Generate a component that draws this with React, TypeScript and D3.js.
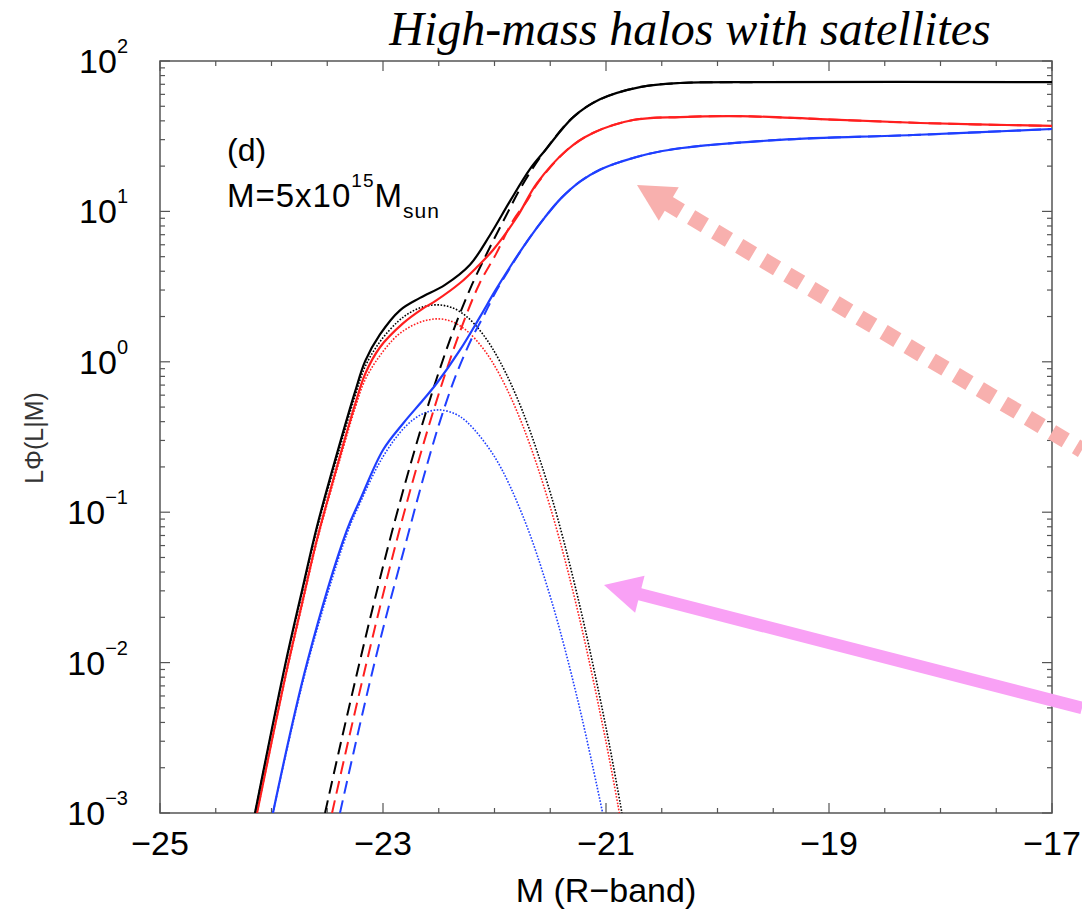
import React from "react";
import * as d3 from "d3";

// Conditional luminosity function of a 5e15 Msun halo, R-band.
// Totals (solid), satellites (dashed) and centrals (dotted) for three models.

const blackTotalMag = [-24.148, -23.879, -23.726, -23.592, -23.386, -23.251, -23.16, -23.027, -22.848, -22.668, -22.444, -22.22, -22.04, -21.861, -21.682, -21.547, -21.296, -21.054, -20.695, -20.336, -19.62, -17.0];
const blackTotalPhi = [0.001, 0.00955, 0.0302, 0.0804, 0.288, 0.631, 1.01, 1.52, 2.2, 2.66, 3.25, 4.42, 6.97, 11.7, 19.1, 25.4, 42.2, 55.6, 67.1, 71.4, 72.4, 72.4];

const redTotalMag = [-24.13, -23.879, -23.726, -23.592, -23.386, -23.251, -23.16, -23.027, -22.821, -22.65, -22.525, -22.309, -22.157, -22.013, -21.798, -21.619, -21.35, -21.117, -20.758, -20.336, -19.8, -19.08, -18.18, -17.0];
const redTotalPhi = [0.001, 0.0079, 0.0248, 0.066, 0.236, 0.52, 0.83, 1.25, 1.8, 2.24, 2.55, 3.34, 4.27, 5.54, 9.18, 15.4, 25.6, 33.2, 40.5, 42.4, 43.0, 41.1, 38.7, 37.0];

const blueTotalMag = [-23.987, -23.682, -23.323, -23.206, -23.0, -22.82, -22.641, -22.516, -22.309, -22.13, -21.996, -21.861, -21.709, -21.55, -21.4, -21.233, -21.05, -20.85, -20.632, -20.336, -19.44, -18.247, -17.0];
const blueTotalPhi = [0.001, 0.0099, 0.0762, 0.1205, 0.259, 0.389, 0.557, 0.723, 1.2, 1.99, 2.95, 4.27, 6.3, 9.1, 12.3, 15.8, 19.0, 21.6, 24.0, 26.3, 29.9, 32.2, 35.3];

const blackSatMag = [-23.52, -23.4, -23.25, -23.1, -22.95, -22.8, -22.65, -22.5, -22.35, -22.2, -22.05, -21.9, -21.75, -21.547, -21.296, -21.054, -20.695, -20.336, -19.62, -17.0];
const blackSatPhi = [0.001, 0.00249, 0.00752, 0.0219, 0.0607, 0.157, 0.379, 0.853, 1.76, 3.28, 5.6, 9.25, 15.0, 25.4, 42.2, 55.6, 67.1, 71.4, 72.4, 72.4];

const redSatMag = [-23.457, -23.337, -23.187, -23.037, -22.887, -22.737, -22.587, -22.437, -22.287, -22.137, -21.987, -21.837, -21.7, -21.619, -21.35, -21.117, -20.758, -20.336, -19.8, -19.08, -18.18, -17.0];
const redSatPhi = [0.001, 0.00249, 0.00752, 0.0219, 0.0607, 0.157, 0.379, 0.853, 1.76, 3.28, 5.2, 8.6, 12.0, 15.2, 25.6, 33.2, 40.5, 42.4, 43.0, 41.1, 38.7, 37.0];

const blueSatMag = [-23.386, -23.266, -23.116, -22.96, -22.8, -22.65, -22.5, -22.35, -22.2, -22.1, -21.996, -21.861, -21.709, -21.55, -21.4, -21.233, -21.05, -20.85, -20.632, -20.336, -19.44, -18.247, -17.0];
const blueSatPhi = [0.001, 0.00249, 0.00752, 0.0219, 0.0607, 0.157, 0.379, 0.8, 1.45, 2.0, 2.85, 4.2, 6.3, 9.1, 12.3, 15.8, 19.0, 21.6, 24.0, 26.3, 29.9, 32.2, 35.3];

const blackCenMag = [-24.148, -23.879, -23.726, -23.592, -23.386, -23.251, -23.16, -23.027, -22.87, -22.75, -22.62, -22.5, -22.38, -22.25, -22.1, -21.95, -21.75, -21.5, -21.25, -21.0, -20.857];
const blackCenPhi = [0.001, 0.0093, 0.029, 0.077, 0.27, 0.59, 0.93, 1.36, 1.84, 2.14, 2.34, 2.39, 2.29, 2.0, 1.51, 1.0, 0.473, 0.135, 0.0266, 0.0037, 0.001];

const redCenMag = [-24.13, -23.879, -23.726, -23.592, -23.386, -23.251, -23.16, -23.027, -22.87, -22.75, -22.62, -22.5, -22.38, -22.25, -22.1, -21.95, -21.75, -21.5, -21.25, -21.0, -20.88];
const redCenPhi = [0.001, 0.0077, 0.024, 0.064, 0.225, 0.49, 0.76, 1.1, 1.5, 1.72, 1.88, 1.93, 1.85, 1.61, 1.22, 0.81, 0.382, 0.108, 0.0215, 0.00297, 0.001];

const blueCenMag = [-23.987, -23.682, -23.323, -23.206, -23.0, -22.8, -22.65, -22.5, -22.35, -22.25, -22.0, -21.75, -21.5, -21.25, -21.03];
const blueCenPhi = [0.001, 0.0095, 0.072, 0.115, 0.234, 0.37, 0.449, 0.479, 0.449, 0.4, 0.234, 0.096, 0.0275, 0.0055, 0.001];

const xTicks = [-25, -23, -21, -19, -17];
const xTickLabels = ["\u221225", "\u221223", "\u221221", "\u221219", "\u221217"];
const yExponents = [2, 1, 0, -1, -2, -3];

// annotation arrows: [tip magnitude, tip value, tail magnitude, tail value]
const dashedArrow = [-20.722, 14.98, -16.731, 0.259];
const solidArrow = [-21.018, 0.0328, -16.731, 0.00499];

const W = 1082;
const H = 911;
const left = 160, right = 1052, top = 61, bottom = 813;

const x = d3.scaleLinear().domain([-25, -17]).range([left, right]);
const y = d3.scaleLog().domain([1e-3, 1e2]).range([bottom, top]);

const line = d3
  .line<[number, number]>()
  .x((d) => x(d[0]))
  .y((d) => y(d[1]))
  .curve(d3.curveCatmullRom.alpha(0.5));

const zip = (m: number[], p: number[]) => m.map((v, i) => [v, p[i]] as [number, number]);

const BLACK = "#000000";
const RED = "#ff1f1f";
const BLUE = "#1f3fff";

function arrowGeometry(a: number[], headLen: number, headHalf: number) {
  const tx = x(a[0]), ty = y(a[1]);
  const px = x(a[2]), py = y(a[3]);
  const len = Math.hypot(px - tx, py - ty);
  const ux = (px - tx) / len, uy = (py - ty) / len;
  const nx = -uy, ny = ux;
  const bx = tx + ux * headLen, by = ty + uy * headLen;
  const head = [
    [tx, ty],
    [bx + nx * headHalf, by + ny * headHalf],
    [bx - nx * headHalf, by - ny * headHalf],
  ];
  return { head: head.map((p) => p.join(",")).join(" "), bx: bx - ux * 2, by: by - uy * 2, px, py };
}

export default function App() {
  const font = "'Liberation Sans', Arial, Helvetica, sans-serif";
  const xMinor = d3.range(-25, -16.99, 0.5);
  const yMinor: number[] = [];
  for (let e = -3; e < 2; e++) for (let k = 2; k <= 9; k++) yMinor.push(k * Math.pow(10, e));

  const tickColor = "#555";
  const dashA = arrowGeometry(dashedArrow, 37, 19.5);
  const solidA = arrowGeometry(solidArrow, 37, 19);

  return (
    <svg
      width={W}
      height={H}
      style={{ position: "absolute", left: 0, top: 0, background: "#fff" }}
      fontFamily={font}
    >
      <defs>
        <clipPath id="plotArea">
          <rect x={left} y={top} width={right - left} height={bottom - top} />
        </clipPath>
      </defs>

      <text
        x={690}
        y={45}
        textAnchor="middle"
        fontFamily="'Liberation Serif', 'Times New Roman', serif"
        fontStyle="italic"
        fontSize={48}
      >
        High-mass halos with satellites
      </text>

      {/* frame */}
      <rect x={left} y={top} width={right - left} height={bottom - top} fill="none" stroke={tickColor} strokeWidth={1.5} />

      {/* x ticks, bottom and top */}
      {xMinor.map((m, i) => {
        const major = Math.abs(m - Math.round(m)) < 1e-6 && Math.round(m) % 2 !== 0;
        const L = major ? 10 : 5;
        return (
          <g key={"xt" + i} stroke={tickColor} strokeWidth={1.2}>
            <line x1={x(m)} x2={x(m)} y1={bottom} y2={bottom - L} />
            <line x1={x(m)} x2={x(m)} y1={top} y2={top + L} />
          </g>
        );
      })}
      {/* y ticks, left and right */}
      {yExponents.map((e) => (
        <g key={"ym" + e} stroke={tickColor} strokeWidth={1.2}>
          <line x1={left} x2={left + 10} y1={y(Math.pow(10, e))} y2={y(Math.pow(10, e))} />
          <line x1={right} x2={right - 10} y1={y(Math.pow(10, e))} y2={y(Math.pow(10, e))} />
        </g>
      ))}
      {yMinor.map((v, i) => (
        <g key={"yn" + i} stroke={tickColor} strokeWidth={1.2}>
          <line x1={left} x2={left + 5} y1={y(v)} y2={y(v)} />
          <line x1={right} x2={right - 5} y1={y(v)} y2={y(v)} />
        </g>
      ))}

      {/* tick labels */}
      {xTicks.map((t, i) => (
        <text key={"xl" + t} x={x(t)} y={855} textAnchor="middle" fontSize={34}>
          {xTickLabels[i]}
        </text>
      ))}
      {yExponents.map((e) => (
        <text key={"yl" + e} x={128} y={y(Math.pow(10, e)) + 12} textAnchor="end" fontSize={34}>
          10
          <tspan dy={-20} fontSize={20}>
            {e < 0 ? "\u2212" + Math.abs(e) : String(e)}
          </tspan>
        </text>
      ))}

      {/* axis titles */}
      <text x={(left + right) / 2} y={902} textAnchor="middle" fontSize={34}>
        M (R{"\u2212"}band)
      </text>
      <text
        transform={`translate(43, 438) rotate(-90)`}
        textAnchor="middle"
        fontSize={25}
        fill="#333"
      >
        L{"\u03A6"}(L|M)
      </text>

      {/* panel annotation */}
      <text x={227} y={161} fontSize={32}>(d)</text>
      <text x={227} y={207} fontSize={33} letterSpacing={1}>
        M=5x10
        <tspan dy={-20} fontSize={19}>15</tspan>
        <tspan dy={20}>M</tspan>
        <tspan dy={11} fontSize={21}>sun</tspan>
      </text>

      {/* curves */}
      <g clipPath="url(#plotArea)" fill="none">
        <path d={line(zip(blueCenMag, blueCenPhi)) || ""} stroke={BLUE} strokeWidth={1.6} strokeDasharray="1.6 1.6" />
        <path d={line(zip(redCenMag, redCenPhi)) || ""} stroke={RED} strokeWidth={1.6} strokeDasharray="1.6 1.6" />
        <path d={line(zip(blackCenMag, blackCenPhi)) || ""} stroke={BLACK} strokeWidth={1.6} strokeDasharray="1.6 1.6" />

        <path d={line(zip(blueSatMag, blueSatPhi)) || ""} stroke={BLUE} strokeWidth={2} strokeDasharray="13 7" />
        <path d={line(zip(redSatMag, redSatPhi)) || ""} stroke={RED} strokeWidth={2} strokeDasharray="13 7" />
        <path d={line(zip(blackSatMag, blackSatPhi)) || ""} stroke={BLACK} strokeWidth={2} strokeDasharray="13 7" />

        <path d={line(zip(blueTotalMag, blueTotalPhi)) || ""} stroke={BLUE} strokeWidth={2.2} />
        <path d={line(zip(redTotalMag, redTotalPhi)) || ""} stroke={RED} strokeWidth={2.2} />
        <path d={line(zip(blackTotalMag, blackTotalPhi)) || ""} stroke={BLACK} strokeWidth={2.2} />
      </g>

      {/* arrows */}
      <g>
        <line x1={dashA.bx} y1={dashA.by} x2={dashA.px} y2={dashA.py} stroke="#f8b0ae" strokeWidth={16} strokeDasharray="16 12" />
        <polygon points={dashA.head} fill="#f8b0ae" />
        <line x1={solidA.bx} y1={solidA.by} x2={solidA.px} y2={solidA.py} stroke="#f9a1f5" strokeWidth={12.5} />
        <polygon points={solidA.head} fill="#f9a1f5" />
      </g>
    </svg>
  );
}
